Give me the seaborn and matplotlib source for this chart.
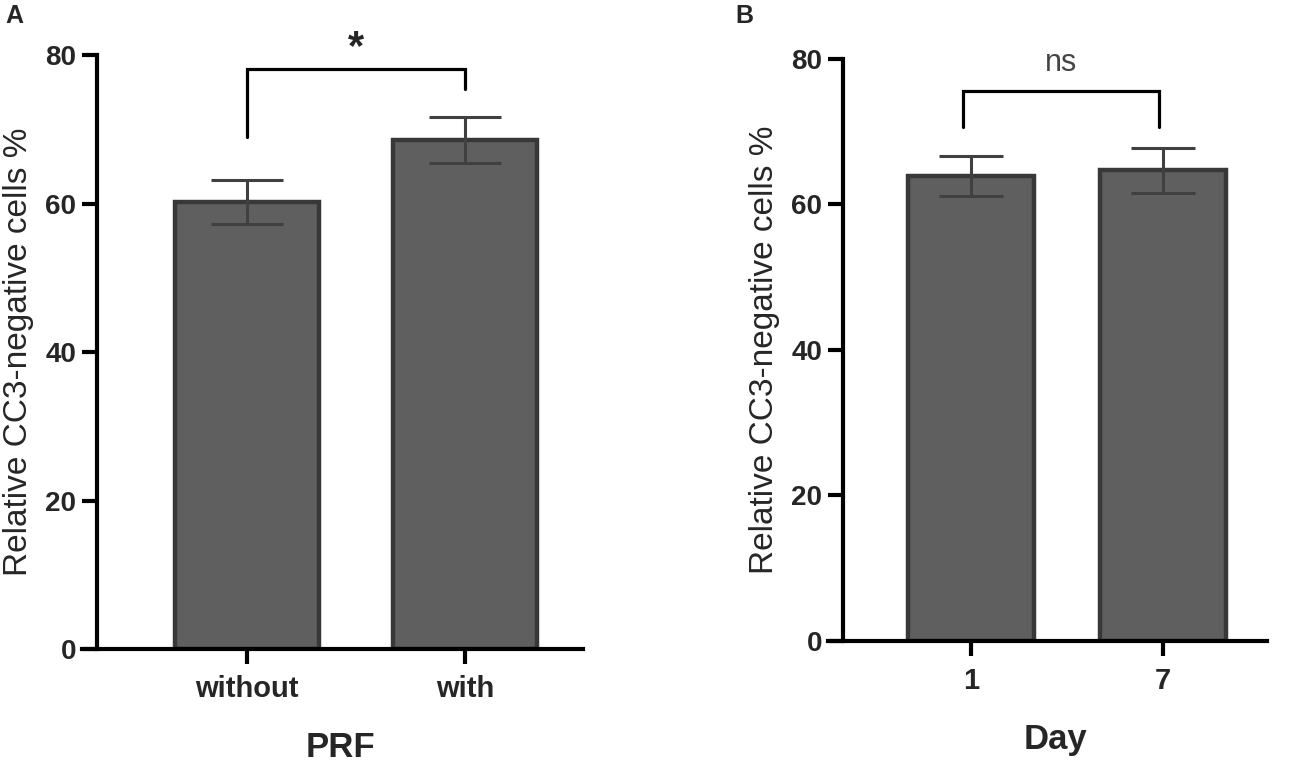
import numpy as np
import matplotlib
matplotlib.use("Agg")
import matplotlib.pyplot as plt
import seaborn as sns
import pandas as pd

# panel A data
prf_groups = ["without", "with"]
prf_mean = [60.2, 68.6]
prf_sem = [3.0, 3.1]

# panel B data
day_groups = ["1", "7"]
day_mean = [63.9, 64.7]
day_sem = [2.8, 3.1]

sns.set_style('ticks')
plt.rcParams['font.family'] = ['Liberation Sans', 'DejaVu Sans']

bar_fill = "#5f5f5f"
bar_edge = "#383838"
err_col = "#404040"

fig = plt.figure(figsize=(12.99, 7.66), dpi=100)
axA = fig.add_axes([0.0747, 0.1527, 0.3743, 0.7754])
axB = fig.add_axes([0.649, 0.1632, 0.3264, 0.7598])


def draw_panel(ax, groups, mean, sem, xlabel, xlim, capsize, tick_off):
    df = pd.DataFrame({"group": groups, "value": mean})
    sns.barplot(data=df, x="group", y="value", ax=ax, color=bar_fill,
                width=0.66, errorbar=None, saturation=1,
                edgecolor=bar_edge, linewidth=3.2)
    ax.errorbar(np.arange(len(groups)), mean, yerr=sem, fmt="none",
                ecolor=err_col, elinewidth=2.2, capsize=capsize, capthick=2.2,
                zorder=5)
    ax.set_ylim(0, 80)
    ax.set_xlim(*xlim)
    ax.set_yticks([0, 20, 40, 60, 80])
    for s in ["top", "right"]:
        ax.spines[s].set_visible(False)
    for s in ["left", "bottom"]:
        ax.spines[s].set_linewidth(3)
        ax.spines[s].set_color("black")
    ax.spines["bottom"].set_bounds(xlim[0] - tick_off, xlim[1])
    ax.tick_params(axis="both", length=11, width=3, color="black",
                   labelsize=20)
    ax.tick_params(axis="x", pad=8, labelsize=21)
    ax.tick_params(axis="y", pad=4)
    for lab in ax.get_xticklabels() + ax.get_yticklabels():
        lab.set_fontweight("bold")
    ax.set_ylabel("Relative CC3-negative cells %", fontsize=24, labelpad=8)
    ax.set_xlabel(xlabel, fontsize=25, fontweight="bold", labelpad=20)


draw_panel(axA, prf_groups, prf_mean, prf_sem, "PRF", (-0.688, 1.541), 26, 0.069)
draw_panel(axB, day_groups, day_mean, day_sem, "Day", (-0.667, 1.542), 23, 0.078)

# significance brackets
axA.plot([0, 0, 1, 1], [68.9, 78.1, 78.1, 75.4], color="black", lw=2.3,
         clip_on=False, solid_joinstyle="miter")
axA.text(0.5, 81.0, "*", ha="center", va="center", fontsize=30,
         fontweight="bold", clip_on=False)
axB.plot([-0.04, -0.04, 0.98, 0.98], [70.7, 75.6, 75.6, 70.7], color="black",
         lw=2.3, clip_on=False, solid_joinstyle="miter")
axB.text(0.47, 79.4, "ns", ha="center", va="center", fontsize=22,
         color="#444444", clip_on=False)

fig.text(0.004, 0.979, "A", fontsize=18, fontweight="bold", va="center")
fig.text(0.566, 0.979, "B", fontsize=18, fontweight="bold", va="center")

fig.savefig("out.png", dpi=100)
